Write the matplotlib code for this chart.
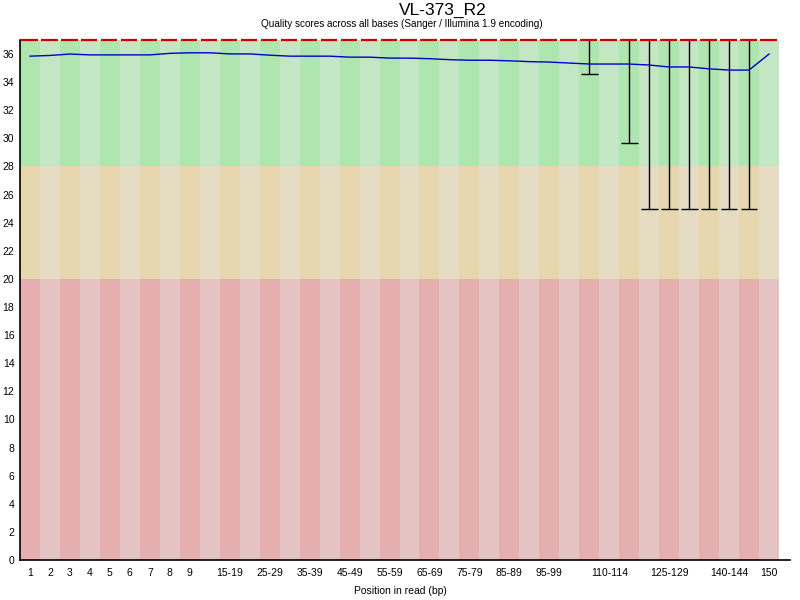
import matplotlib
matplotlib.use("Agg")
import matplotlib.pyplot as plt

plt.rcParams['font.family'] = ['Liberation Sans', 'DejaVu Sans']

# base groups along the read
positions = ['1', '2', '3', '4', '5', '6', '7', '8', '9',
             '10-14', '15-19', '20-24', '25-29', '30-34', '35-39', '40-44',
             '45-49', '50-54', '55-59', '60-64', '65-69', '70-74', '75-79',
             '80-84', '85-89', '90-94', '95-99', '100-104', '105-109',
             '110-114', '115-119', '120-124', '125-129', '130-134',
             '135-139', '140-144', '145-149', '150']

mean_q = [35.85, 35.90, 36.00, 35.94, 35.94, 35.94, 35.94, 36.05, 36.09,
          36.09, 36.01, 36.01, 35.92, 35.85, 35.85, 35.85, 35.78, 35.78,
          35.71, 35.71, 35.67, 35.60, 35.56, 35.56, 35.52, 35.46, 35.43,
          35.36, 35.29, 35.29, 35.29, 35.22, 35.08, 35.08, 34.95, 34.86,
          34.86, 36.00]
median_q = [37] * 38
p90_q = [37] * 38
p10_q = [37] * 28 + [34.6, 37, 29.7, 25, 25, 25, 25, 25, 25, 37]

shown_labels = ['1', '2', '3', '4', '5', '6', '7', '8', '9', '15-19', '25-29',
                '35-39', '45-49', '55-59', '65-69', '75-79', '85-89', '95-99',
                '110-114', '125-129', '140-144', '150']

title = 'VL-373_R2'
subtitle = 'Quality scores across all bases (Sanger / Illumina 1.9 encoding)'
y_max = 37

zones = [(0, 20, '#e6c3c3', '#e6afaf'),
         (20, 28, '#e6dcc3', '#e6d7af'),
         (28, y_max, '#c3e6c3', '#afe6af')]

fig = plt.figure(figsize=(8, 6), dpi=100)
ax = fig.add_axes([20 / 800, 40 / 600, 759 / 800, 520 / 600])

x = list(range(len(positions)))

# striped background bands
for lo, hi, light, dark in zones:
    cols = [dark if i % 2 == 0 else light for i in x]
    ax.bar(x, [hi - lo] * len(x), bottom=lo, width=1.0, color=cols,
           linewidth=0, zorder=0)

# whiskers (10th - 90th percentile)
for i in x:
    if p10_q[i] < p90_q[i]:
        ax.vlines(i, p10_q[i], p90_q[i], color='black', linewidth=1, zorder=2)
        ax.hlines(p10_q[i], i - 0.42, i + 0.42, color='black', linewidth=1,
                  zorder=2)

# median per base group
ax.hlines(median_q, [i - 0.45 for i in x], [i + 0.38 for i in x],
          color=(0.8, 0, 0), linewidth=1.6, zorder=3, clip_on=False)

# mean line
ax.plot(x, mean_q, color=(0, 0, 0.8), linewidth=1, zorder=4)

ax.set_xlim(-0.5, len(positions) - 0.5)
ax.set_ylim(0, y_max)
ax.set_yticks(range(0, 37, 2))
ax.set_xticks([positions.index(s) for s in shown_labels])
ax.set_xticklabels(shown_labels)
ax.tick_params(axis='both', length=0, labelsize=7.5)
ax.tick_params(axis='y', pad=4)
ax.tick_params(axis='x', pad=6)

for s in ['top', 'right', 'bottom']:
    ax.spines[s].set_visible(False)
ax.spines['left'].set_linewidth(1.2)
ax.plot([0, 1.015], [0, 0], transform=ax.transAxes, color='black',
        linewidth=1.2, clip_on=False, zorder=5)

fig.text(443 / 800, 1 - 15 / 600, title, ha='center', va='baseline',
         fontsize=12.5)
fig.text(402 / 800, 1 - 27 / 600, subtitle, ha='center', va='baseline',
         fontsize=7.2)
fig.text(400 / 800, 1 - 594 / 600, 'Position in read (bp)', ha='center',
         va='baseline', fontsize=7.5)

fig.savefig('out.png', dpi=100)
